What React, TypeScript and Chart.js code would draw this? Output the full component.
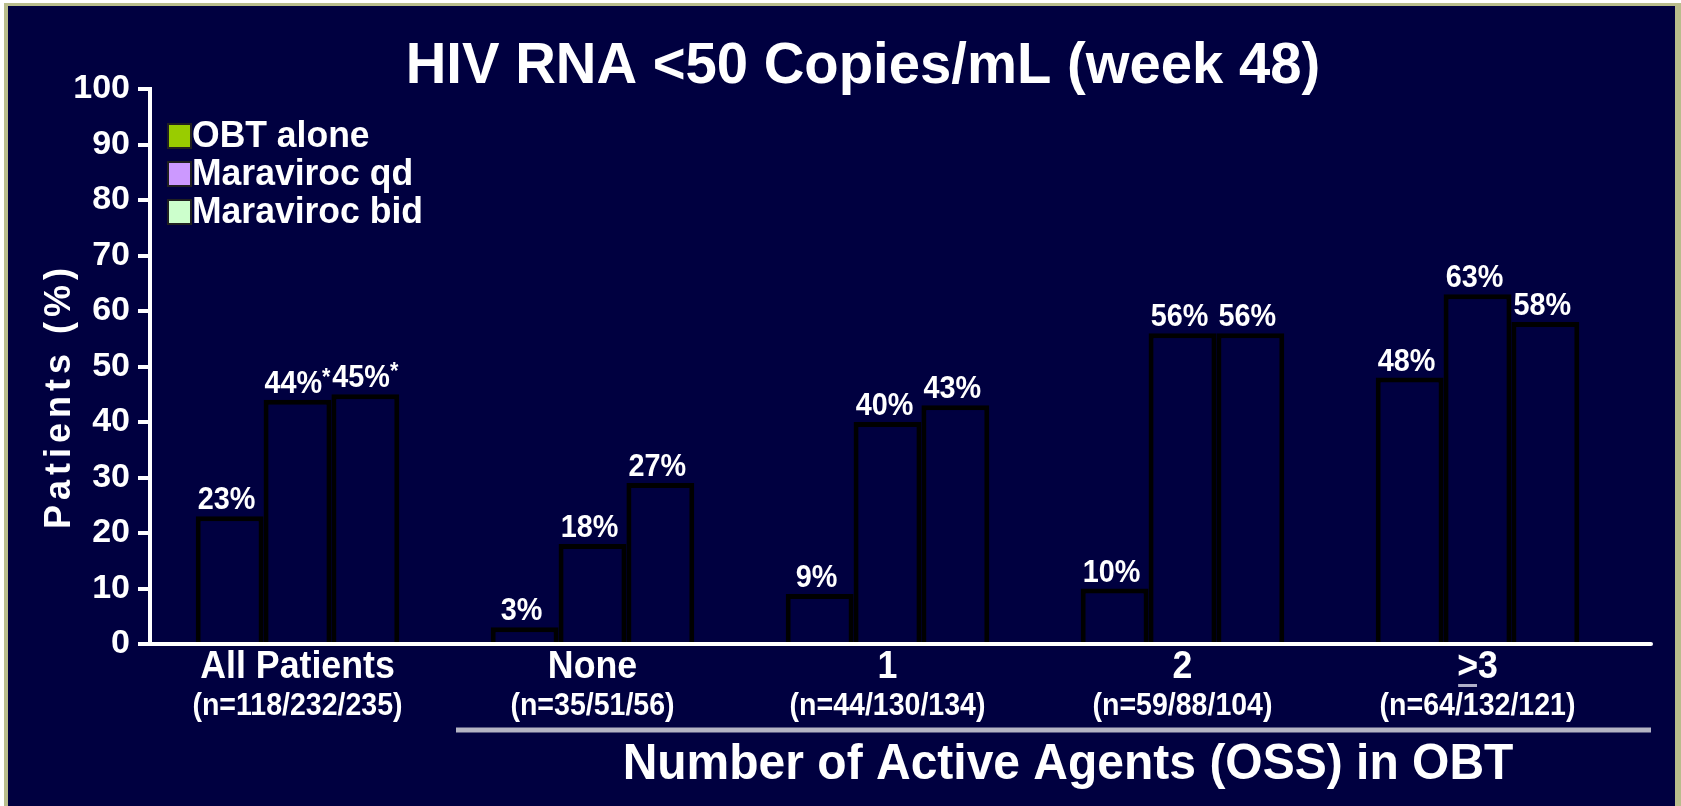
import React, { useEffect, useRef } from "react";
import { Chart, registerables } from "chart.js";

Chart.register(...registerables);

const categories = ["All Patients", "None", "1", "2", ">3"];
const nLabels = ["(n=118/232/235)", "(n=35/51/56)", "(n=44/130/134)", "(n=59/88/104)", "(n=64/132/121)"];
const seriesNames = ["OBT alone", "Maraviroc qd", "Maraviroc bid"];
const legendColors = ["#99cc00", "#cc99ff", "#ccffcc"];
const obtAlone = [23, 3, 9, 10, 48];
const maravirocQd = [44, 18, 40, 56, 63];
const maravirocBid = [45, 29, 43, 56, 58];
const obtLabels = ["23%", "3%", "9%", "10%", "48%"];
const qdLabels = ["44%*", "18%", "40%", "56%", "63%"];
const bidLabels = ["45%*", "27%", "43%", "56%", "58%"];
const yTicks = [0, 10, 20, 30, 40, 50, 60, 70, 80, 90, 100];

const NAVY = "#000040";
const FONT = "'Liberation Sans', Arial, Helvetica, sans-serif";

// draws text horizontally squeezed (reference glyphs are tall and narrow)
function squeezed(ctx: any, txt: string, x: number, y: number, sx: number) {
  ctx.save();
  ctx.translate(x, y);
  ctx.scale(sx, 1);
  ctx.fillText(txt, 0, 0);
  ctx.restore();
}

const decorPlugin = {
  id: "decor",
  beforeDraw(chart: any) {
    const { ctx, width, height } = chart;
    ctx.save();
    ctx.fillStyle = "#ffffff";
    ctx.fillRect(0, 0, width, height);
    ctx.fillStyle = "#b9bd8c";
    ctx.fillRect(4, 3, width - 4, height - 3);
    ctx.fillStyle = NAVY;
    ctx.fillRect(8, 6, width - 14, height - 6);
    ctx.restore();
  },
  afterDraw(chart: any) {
    const { ctx, chartArea } = chart;
    const xs = chart.scales.x;
    ctx.save();
    // title
    ctx.fillStyle = "#ffffff";
    ctx.textAlign = "center";
    ctx.textBaseline = "middle";
    ctx.font = `bold 58px ${FONT}`;
    squeezed(ctx, "HIV RNA <50 Copies/mL (week 48)", 863, 67, 0.97);

    // y title
    ctx.save();
    ctx.translate(60, 396);
    ctx.rotate(-Math.PI / 2);
    ctx.font = `bold 36px ${FONT}`;
    (ctx as any).letterSpacing = "5px";
    ctx.fillText("Patients (%)", 0, 0);
    ctx.restore();

    // x axis line
    ctx.strokeStyle = "#ffffff";
    ctx.lineWidth = 4;
    ctx.lineCap = "round";
    ctx.beginPath();
    ctx.moveTo(chartArea.left, chartArea.bottom);
    ctx.lineTo(1651, chartArea.bottom);
    ctx.stroke();

    // data labels
    const allLabels = [obtLabels, qdLabels, bidLabels];
    const SX = 0.9;
    chart.data.datasets.forEach((ds: any, di: number) => {
      const meta = chart.getDatasetMeta(di);
      meta.data.forEach((bar: any, i: number) => {
        const txt: string = allLabels[di][i];
        ctx.textBaseline = "alphabetic";
        if (txt.endsWith("*")) {
          const main = txt.slice(0, -1);
          ctx.font = `bold 32px ${FONT}`;
          const w1 = ctx.measureText(main).width * SX;
          ctx.font = `bold 24px ${FONT}`;
          const w2 = ctx.measureText("*").width * SX;
          const start = bar.x - (w1 + w2) / 2;
          ctx.textAlign = "left";
          ctx.font = `bold 32px ${FONT}`;
          squeezed(ctx, main, start, bar.y - 7, SX);
          ctx.font = `bold 24px ${FONT}`;
          squeezed(ctx, "*", start + w1, bar.y - 15, SX);
        } else {
          ctx.textAlign = "center";
          ctx.font = `bold 32px ${FONT}`;
          squeezed(ctx, txt, bar.x - 3, bar.y - 7, SX);
        }
      });
    });

    // category labels
    ctx.textAlign = "center";
    ctx.textBaseline = "middle";
    categories.forEach((c, i) => {
      const x = xs.getPixelForValue(i);
      ctx.font = `bold 38px ${FONT}`;
      squeezed(ctx, c, x, 668, 0.94);
      if (c.startsWith(">")) {
        const w = ctx.measureText(c).width * 0.94;
        const wg = ctx.measureText(">").width * 0.94;
        const gx = x - w / 2;
        ctx.fillStyle = "#b0b0c8";
        ctx.fillRect(gx + 1, 684, wg - 2, 3);
        ctx.fillStyle = "#ffffff";
      }
      ctx.font = `bold 31px ${FONT}`;
      squeezed(ctx, nLabels[i], x, 706, 0.92);
    });

    // grey line
    ctx.strokeStyle = "#b4b4c4";
    ctx.lineWidth = 5;
    ctx.lineCap = "butt";
    ctx.beginPath();
    ctx.moveTo(456, 730);
    ctx.lineTo(1651, 730);
    ctx.stroke();

    // x title
    ctx.fillStyle = "#ffffff";
    ctx.font = `bold 50px ${FONT}`;
    squeezed(ctx, "Number of Active Agents (OSS) in OBT", 1068, 765, 0.96);

    // legend
    seriesNames.forEach((name, i) => {
      const y = 136 + i * 38;
      ctx.fillStyle = "#202020";
      ctx.fillRect(167, y - 13, 25, 26);
      ctx.fillStyle = legendColors[i];
      ctx.fillRect(169, y - 11, 21, 22);
      ctx.fillStyle = "#ffffff";
      ctx.textAlign = "left";
      ctx.font = `bold 37px ${FONT}`;
      squeezed(ctx, name, 192, y + 1, 0.96);
    });
    ctx.restore();
  },
};

export default function App() {
  const ref = useRef<HTMLCanvasElement | null>(null);
  useEffect(() => {
    document.body.style.margin = "0";
    const canvas = ref.current!;
    const mk = (label: string, data: number[]) => ({
      label,
      data,
      backgroundColor: NAVY,
      borderColor: "#000000",
      borderWidth: 5,
      borderSkipped: "bottom" as const,
      categoryPercentage: 0.69,
      barPercentage: 1.0,
    });
    const chart = new Chart(canvas, {
      type: "bar",
      data: {
        labels: categories,
        datasets: [mk(seriesNames[0], obtAlone), mk(seriesNames[1], maravirocQd), mk(seriesNames[2], maravirocBid)],
      },
      options: {
        animation: false,
        responsive: false,
        devicePixelRatio: 1,
        layout: { padding: { left: 0, right: 56, top: 89, bottom: 162 } },
        plugins: { legend: { display: false }, title: { display: false }, tooltip: { enabled: false } },
        scales: {
          x: { display: false },
          y: {
            min: 0,
            max: 100,
            afterFit: (s: any) => { s.width = 150; },
            afterBuildTicks: (s: any) => { s.ticks = yTicks.map((v) => ({ value: v })); },
            ticks: { color: "#ffffff", font: { family: FONT, size: 34, weight: "bold" }, padding: 8 },
            grid: { drawOnChartArea: false, drawTicks: true, tickLength: 12, color: "#ffffff", lineWidth: 4 },
            border: { display: true, color: "#ffffff", width: 4 },
          },
        },
      },
      plugins: [decorPlugin],
    });
    return () => chart.destroy();
  }, []);
  return (
    <div style={{ width: 1681, height: 806, position: "relative" }}>
      <canvas ref={ref} width={1681} height={806} style={{ display: "block" }} />
    </div>
  );
}
